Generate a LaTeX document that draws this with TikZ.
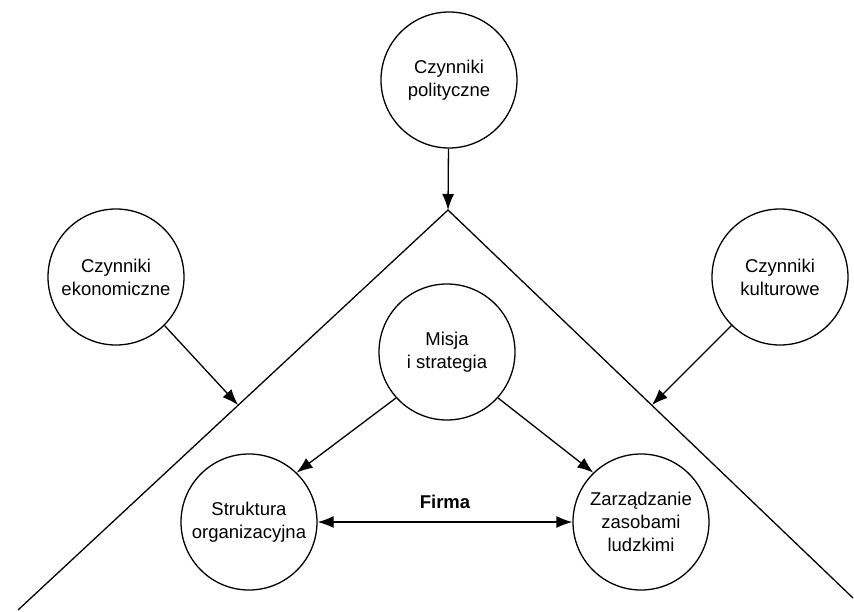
\documentclass[tikz,border=0pt]{standalone}
\usepackage{fontspec}
\setmainfont{Liberation Sans}
\usetikzlibrary{arrows.meta}
\begin{document}
\begin{tikzpicture}[x=1pt,y=-1pt,
  factor/.style={circle,draw,line width=1.3pt,minimum size=136pt,inner sep=0pt,
    align=center,font=\fontsize{18.5}{23}\selectfont},
  link/.style={line width=1.3pt,-{Latex[length=16pt,width=12pt]}},
  edge/.style={line width=1.3pt}]
\useasboundingbox (0,0) rectangle (854,611);
% outer factors
\node[factor] (pol) at (449,80) {Czynniki\\polityczne};
\node[factor] (eko) at (116,277) {Czynniki\\ekonomiczne};
\node[factor] (kul) at (780,277) {Czynniki\\kulturowe};
% the firm
\node[factor] (mis) at (447,352) {Misja\\i strategia};
\node[factor] (str) at (249,522) {Struktura\\organizacyjna};
\node[factor] (zar) at (641,522) {Zarządzanie\\zasobami\\ludzkimi};
% roof of the firm
\coordinate (apex) at (448,210);
\coordinate (lend) at (18,610);
\coordinate (rend) at (853,598);
\draw[edge] (lend) -- (apex) -- (rend);
\coordinate (lhit) at (238,405);
\coordinate (rhit) at (652,405);
% influences
\draw[link] (pol) -- (apex);
\draw[link] (eko.-45) -- (lhit);
\draw[link] (kul.-135) -- (rhit);
\draw[link] (mis.-138) -- (str.46);
\draw[link] (mis.-42) -- (zar.134);
\draw[line width=1.3pt,{Latex[length=16pt,width=12pt]}-{Latex[length=16pt,width=12pt]}] (str) -- node[above=9pt,font=\fontsize{18.5}{23}\selectfont\bfseries] (firma) {Firma} (zar);
\end{tikzpicture}
\end{document}
